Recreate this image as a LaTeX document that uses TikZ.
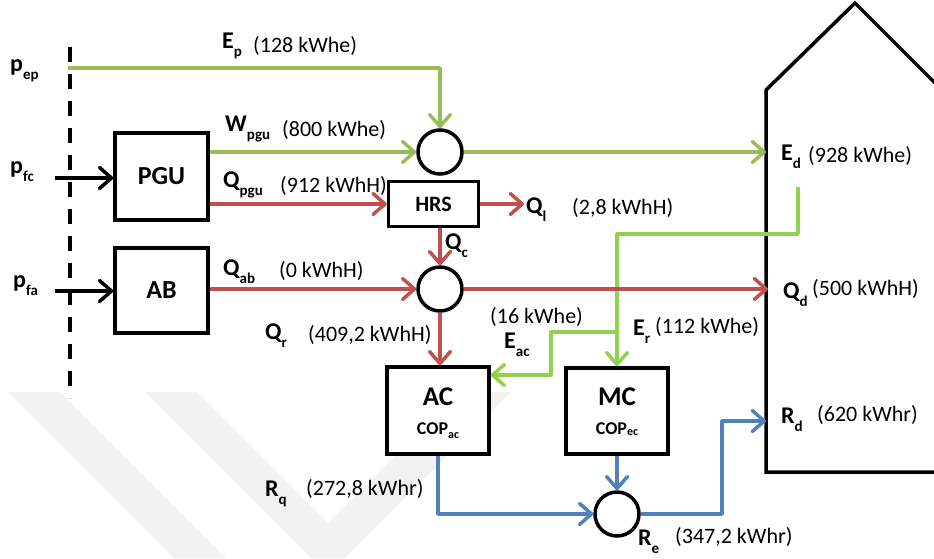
\documentclass[tikz,border=0pt]{standalone}
\usepackage{fontspec}
\setmainfont{Carlito}
\usetikzlibrary{arrows.meta}
\definecolor{gA}{HTML}{9BBB59}
\definecolor{gB}{HTML}{92D050}
\definecolor{rA}{HTML}{C0504D}
\definecolor{bA}{HTML}{4F81BD}
\definecolor{wm}{HTML}{F2F2F2}
\newcommand{\mylab}[2]{{\fontsize{24}{24}\selectfont\bfseries #1}\raisebox{-8pt}{\fontsize{15}{15}\selectfont\bfseries #2}}
\newcommand{\myval}[1]{{\fontsize{22}{22}\selectfont #1}}
\begin{document}
\begin{tikzpicture}[x=1pt,y=-1pt,
  box/.style={draw,line width=3.5pt,fill=white,inner sep=0pt},
  sumc/.style={draw,circle,line width=3.5pt,fill=white,minimum size=44pt,inner sep=0pt},
  flow/.style={line width=3.5pt,line join=round,-{Straight Barb[length=12pt,width=21pt,round]}},
  lab/.style={anchor=base west,inner sep=0pt}]
\useasboundingbox (0,0) rectangle (934,558);
% watermark
\fill[wm] (8,392) -- (60,392) -- (226,558) -- (174,558) -- cycle;
\fill[wm] (145,392) -- (197,392) -- (328,523) -- (459,392) -- (511,392) -- (345,558) -- (311,558) -- cycle;
% house
\draw[line width=3.5pt,line join=miter,fill=white] (950,472) -- (766,472) -- (766,90) -- (855,3) -- (950,98);
% dashed boundary
\draw[line width=4pt,dash pattern=on 15pt off 12pt] (70,47) -- (70,398);
% boxes
\node[box,minimum width=93pt,minimum height=87pt] (pgu) at (161.5,176.5) {\fontsize{26}{26}\selectfont\bfseries PGU};
\node[box,minimum width=93pt,minimum height=85pt] (ab) at (161.5,290.5) {\fontsize{26}{26}\selectfont\bfseries AB};
\node[box,minimum width=90pt,minimum height=45pt] (hrs) at (433.5,204) {\fontsize{22}{22}\selectfont\bfseries HRS};
\node[box,minimum width=102pt,minimum height=87pt] (ac) at (438,410.5) {};
\node[box,minimum width=102pt,minimum height=86pt] (mc) at (617,411) {};
\node[anchor=base,inner sep=0pt] (actxt) at (438,405) {\fontsize{27}{27}\selectfont\bfseries AC};
\node[anchor=base,inner sep=0pt] (accop) at (438,434) {\fontsize{18}{18}\selectfont\bfseries COP\raisebox{-4pt}{\fontsize{12}{12}\selectfont ac}};
\node[anchor=base,inner sep=0pt] (mctxt) at (617,405) {\fontsize{27}{27}\selectfont\bfseries MC};
\node[anchor=base,inner sep=0pt] (mccop) at (617,434) {\fontsize{18}{18}\selectfont\bfseries COP\raisebox{-1pt}{\fontsize{12}{12}\selectfont ec}};
% circles
\node[sumc] (c1) at (440,152) {};
\node[sumc] (c2) at (440,289) {};
\node[sumc] (c3) at (617,514) {};
% coordinates
\coordinate (pep) at (68,68);
\coordinate (epc) at (440,68);
\coordinate (pfc) at (55,178);
\coordinate (pfa) at (55,291);
\coordinate (edw) at (766,152);
\coordinate (qdw) at (768,289);
\coordinate (ql) at (524,204);
\coordinate (d1) at (798,187);
\coordinate (d2) at (798,234);
\coordinate (d3) at (617,234);
\coordinate (b1) at (617,332);
\coordinate (b2) at (551,332);
\coordinate (b3) at (551,375);
\coordinate (r1) at (438,514);
\coordinate (r2) at (722,514);
\coordinate (r3) at (722,421);
\coordinate (rdw) at (766,421);
% black inputs
\draw[flow,black] (pfc) -- (pfc -| pgu.west);
\draw[flow,black] (pfa) -- (pfa -| ab.west);
% green
\draw[flow,gA] (pep) -- (epc) -- (c1.north);
\draw[flow,gA] (pgu.east |- c1) -- (c1.west);
\draw[flow,gA] (c1.east) -- (edw);
\draw[flow,gB] (d1) -- (d2) -- (d3) -- (mc.north);
\draw[flow,gB] (b1) -- (b2) -- (b3) -- (ac.east |- b3);
% red
\draw[flow,rA] (pgu.east |- hrs) -- (hrs.west);
\draw[flow,rA] (hrs.east) -- (ql);
\draw[flow,rA] (hrs.south -| c2) -- (c2.north);
\draw[flow,rA] (ab.east |- c2) -- (c2.west);
\draw[flow,rA] (c2.east) -- (qdw);
\draw[flow,rA] (c2.south) -- (c2.south |- ac.north);
% blue
\draw[flow,bA] (ac.south) -- (r1) -- (c3.west);
\draw[flow,bA] (mc.south) -- (c3.north);
\draw[flow,bA] (c3.east) -- (r2) -- (r3) -- (rdw);
% labels
\node[lab] (lpep) at (10,71) {\mylab{p}{ep}};
\node[lab] (lpfc) at (10,173) {\mylab{p}{fc}};
\node[lab] (lpfa) at (13,287) {\mylab{p}{fa}};
\node[lab] (lep) at (222,48) {\mylab{E}{p}};
\node[lab] (vep) at (253,52) {\myval{(128 kWhe)}};
\node[lab] (lw) at (225,131) {\mylab{W}{pgu}};
\node[lab] (vw) at (282,136) {\myval{(800 kWhe)}};
\node[lab] (lqp) at (223,187) {\mylab{Q}{pgu}};
\node[lab] (vqp) at (280,192) {\myval{(912 kWhH)}};
\node[lab] (lqab) at (223,275) {\mylab{Q}{ab}};
\node[lab] (vqab) at (279,277) {\myval{(0 kWhH)}};
\node[lab] (lqr) at (265,339) {\mylab{Q}{r}};
\node[lab] (vqr) at (308,341) {\myval{(409,2 kWhH)}};
\node[lab] (lqc) at (445,249) {\mylab{Q}{c}};
\node[lab] (lql) at (526,213) {\mylab{Q}{l}};
\node[lab] (vql) at (572,214) {\myval{(2,8 kWhH)}};
\node[lab] (led) at (781,160) {\mylab{E}{d}};
\node[lab] (ved) at (808,162) {\myval{(928 kWhe)}};
\node[lab] (lqd) at (783,298) {\mylab{Q}{d}};
\node[lab] (vqd) at (812,295) {\myval{(500 kWhH)}};
\node[lab] (veac) at (490,323) {\myval{(16 kWhe)}};
\node[lab] (leac) at (504,348) {\mylab{E}{ac}};
\node[lab] (ler) at (633,335) {\mylab{E}{r}};
\node[lab] (ver) at (655,333) {\myval{(112 kWhe)}};
\node[lab] (lrq) at (265,496) {\mylab{R}{q}};
\node[lab] (vrq) at (306,495) {\myval{(272,8 kWhr)}};
\node[lab] (lre) at (638,545) {\mylab{R}{e}};
\node[lab] (vre) at (675,543) {\myval{(347,2 kWhr)}};
\node[lab] (lrd) at (781,423) {\mylab{R}{d}};
\node[lab] (vrd) at (817,421) {\myval{(620 kWhr)}};
\end{tikzpicture}
\end{document}
